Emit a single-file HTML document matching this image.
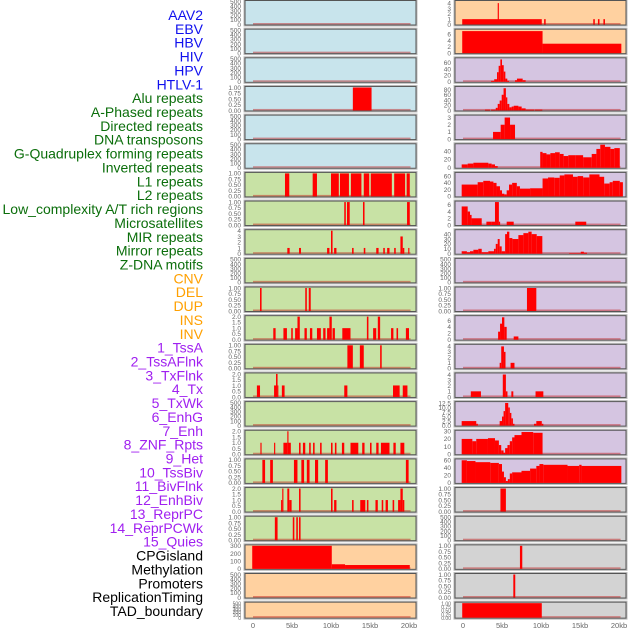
<!DOCTYPE html>
<html><head><meta charset="utf-8">
<style>
html,body{margin:0;padding:0;background:#fff;}
svg{display:block;font-family:"Liberation Sans",sans-serif;}
</style></head>
<body>
<svg id="chart" width="630" height="630" viewBox="0 0 630 630" xmlns="http://www.w3.org/2000/svg">
<g id="labels"></g><g id="panels"></g><g id="xaxis"></g>
</svg>
<script>
// ---- track labels ----
const trackLabels = ["AAV2","EBV","HBV","HIV","HPV","HTLV-1","Alu repeats","A-Phased repeats","Directed repeats","DNA transposons","G-Quadruplex forming repeats","Inverted repeats","L1 repeats","L2 repeats","Low_complexity A/T rich regions","Microsatellites","MIR repeats","Mirror repeats","Z-DNA motifs","CNV","DEL","DUP","INS","INV","1_TssA","2_TssAFlnk","3_TxFlnk","4_Tx","5_TxWk","6_EnhG","7_Enh","8_ZNF_Rpts","9_Het","10_TssBiv","11_BivFlnk","12_EnhBiv","13_ReprPC","14_ReprPCWk","15_Quies","CPGisland","Methylation","Promoters","ReplicationTiming","TAD_boundary"];
const labelGroups = [6,13,5,15,5];
const groupColors = ["#1010ee","#0b6e0b","#ffa000","#a020f0","#000000"];
// ---- tick label sets ----
const T500 = ["0","100","200","300","400","500"];
const TBIN = ["0.00","0.25","0.50","0.75","1.00"];
const T2 = ["0.0","0.5","1.0","1.5","2.0"];
const T4 = ["0","1","2","3","4"];
const T3 = ["0","1","2","3"];
const T6 = ["0","2","4","6"];
const T60 = ["0","20","40","60"];
const T80 = ["0","20","40","60","80"];
const T40 = ["0","20","40"];
const T40b = ["0","10","20","30","40"];
const T30 = ["0","10","20","30"];
const T12 = ["0.0","2.5","5.0","7.5","10.0","12.5"];
const T300 = ["0","100","200","300"];
const xTicks = [0,5,10,15,20];
const xTickLabels = ["0","5kb","10kb","15kb","20kb"];
// ---- series: [startKb, endKb, value] ----
const L3 = [[12.8,15.2,1]];
const L6 = [[4.1,4.65,1],[7.65,8.2,1],[10,11,1],[11.15,12.3,1],[12.55,13.9,1],[14.2,14.9,1],[15.1,17.8,1],[18.1,19.5,1],[19.7,20.1,1]];
const L7 = [[11.7,11.9,1],[12.05,12.4,1],[14.1,14.3,1],[19.75,20.1,1]];
const L8 = [[4.4,4.7,1],[5.9,6.15,1],[9.5,9.8,1],[10,10.2,4],[10.4,10.7,1],[12.7,12.9,1],[14.2,14.4,1],[15.8,16.1,1],[16.7,16.9,1],[17.2,17.5,1],[18.1,18.3,1],[18.9,19.2,3],[19.2,19.4,1],[19.9,20.05,1]];
const L10 = [[0.9,1.1,1],[6.7,6.9,1],[7.15,7.4,1]];
const L11 = [[2.6,2.9,1],[3.9,4.35,1],[4.9,5.1,1],[5.4,5.7,1],[5.7,6.0,2],[6.6,6.9,1],[7.3,7.6,1],[8.2,8.7,1],[9.0,9.3,1],[9.5,9.8,1],[9.8,10.1,2],[10.2,10.5,1],[11.45,12.5,1],[14.6,14.8,2],[15.4,15.8,1],[16.0,16.3,2],[17.7,18.0,1],[18.4,18.6,1],[19.6,20.0,1]];
const L12 = [[12.1,12.8,1],[13.7,14.2,1],[16.3,16.5,1]];
const L13 = [[0.5,0.9,1],[2.7,2.95,1],[2.95,3.15,2],[3.15,3.25,1],[3.7,4.05,1],[11.7,12.1,1],[17.95,18.8,1],[19.2,19.8,1]];
const L15 = [[0.95,1.1,1],[2.7,2.85,1],[3.9,4.4,1],[4.4,4.55,2],[4.55,4.85,1],[5.9,6.1,1],[6.4,6.7,1],[7.2,7.4,1],[7.7,7.9,1],[8.6,8.8,1],[10,10.2,1],[10.5,10.7,1],[11.4,11.7,1],[12.5,13.5,1],[14.0,14.3,1],[15.0,15.2,1],[15.8,16.1,1],[16.4,17.5,1],[18.0,18.3,1],[18.9,19.4,1]];
const L16 = [[1.2,1.55,1],[2.2,2.55,1],[5.25,5.7,1],[6.2,6.55,1],[6.9,7.25,1],[7.95,8.35,1],[9.25,9.6,1],[19.6,19.95,1]];
const L17 = [[3.6,3.75,1],[3.75,3.9,2],[4.4,4.65,2],[4.65,4.95,1],[5.9,6.1,2],[10,10.2,2],[10.4,10.7,1],[12.7,12.9,1],[13.75,14.4,1],[14.6,14.8,1],[15.7,16.0,1],[16.5,16.7,1],[17.0,17.3,1],[17.9,18.1,1],[18.6,18.9,1],[18.9,19.2,2],[19.2,19.4,1]];
const L18 = [[2.8,3.15,1],[5.1,5.3,1],[5.55,5.75,1],[5.9,6.1,1]];
const L19 = [[-0.1,10.1,300],[10.1,11.8,60],[11.8,20.1,50]];
const R0 = [[-0.1,10.1,1],[4.45,4.6,4],[10.4,10.6,1],[16.7,16.9,1],[17.3,17.5,1],[18.0,18.2,1]];
const R1 = [[-0.1,10.2,7],[10.2,20.3,3]];
const R2 = [[3.6,4.0,3],[4.0,4.36,8],[4.36,4.57,30],[4.57,4.79,50],[4.79,5.0,70],[5.0,5.22,52],[5.22,5.43,32],[5.43,5.68,10],[5.68,5.9,3],[6.67,6.92,5],[6.92,7.65,10],[7.65,8.03,5]];
const R3 = [[2.82,3.46,3],[3.6,4.2,3],[4.2,4.45,10],[4.45,4.7,25],[4.7,4.96,38],[4.96,5.2,60],[5.2,5.5,85],[5.5,5.68,50],[5.68,5.94,25],[5.94,6.24,12],[6.24,6.5,15],[6.5,7.1,18],[7.1,7.52,15],[7.52,8.03,8],[8.03,9.15,3],[9.23,10.17,3]];
const R4 = [[3.85,4.83,1],[4.83,5.34,2],[5.34,6.03,3],[6.03,6.67,2]];
const R5 = [[-0.17,0.6,8],[0.6,1.33,10],[1.33,3.25,12],[3.25,3.67,10],[3.67,4.1,8],[4.1,4.45,4],[9.9,10.2,38],[10.2,10.7,35],[10.7,11.2,32],[11.2,11.8,35],[11.8,12.4,37],[12.4,12.9,33],[12.9,13.5,28],[13.5,14.4,30],[14.4,15.4,30],[15.4,16.5,25],[16.5,17.1,33],[17.1,17.6,45],[17.6,18.2,55],[18.2,18.9,50],[18.9,19.4,45],[19.4,20.1,47]];
const R6 = [[-0.17,1.88,35],[1.88,2.6,42],[2.6,3.46,46],[3.46,3.9,44],[3.9,4.3,40],[4.3,4.74,30],[4.74,5.0,18],[5.0,5.3,8],[5.3,5.6,6],[5.6,5.9,18],[5.9,6.3,35],[6.3,6.9,40],[6.9,7.3,30],[7.3,8.6,23],[8.6,10.2,24],[10.2,10.9,53],[10.9,11.7,56],[11.7,12.4,55],[12.4,13.0,62],[13.0,14.1,65],[14.1,14.7,58],[14.7,15.4,60],[15.4,16.2,56],[16.2,17.5,65],[17.5,18.1,58],[18.1,18.8,38],[18.8,19.2,42],[19.2,20.1,46],[20.1,20.5,42]];
const R7 = [[-0.17,0.6,5.5],[0.6,0.9,4],[0.9,1.1,3],[1.1,2.4,2],[3.0,3.7,1],[3.7,4.1,1],[4.1,4.6,6.8],[4.6,4.76,1],[5.6,6.5,1],[14.4,15.8,1]];
const R8 = [[-0.17,0.5,5],[0.5,0.9,3],[0.9,1.33,5],[1.33,1.96,8],[1.96,2.4,10],[2.4,3.25,3],[3.25,3.97,5],[3.97,4.2,10],[4.2,4.45,20],[4.45,4.7,30],[4.7,4.96,15],[4.96,5.4,5],[5.4,5.64,40],[5.64,5.94,45],[5.94,6.33,32],[6.33,7.1,30],[7.1,7.74,38],[7.74,8.38,42],[8.38,8.8,45],[8.8,9.45,40],[9.45,10.17,36],[13.6,15.1,1],[15.1,15.5,4],[15.5,15.9,2]];
const R10 = [[8.2,9.4,1]];
const R11 = [[4.5,4.75,2.5],[4.75,5.0,5],[5.0,5.3,7],[5.3,5.6,4],[6.5,7.1,1]];
const R12 = [[4.7,4.9,1],[4.9,5.25,4],[5.25,5.45,3],[6.1,6.6,1]];
const R13 = [[1.0,2.3,1],[5.1,5.5,4],[5.5,5.7,1],[6.2,6.45,1],[9.3,10.3,1]];
const R14 = [[-0.17,1.7,2.5],[1.7,1.9,1],[4.7,5.0,2.5],[5.0,5.2,5],[5.2,5.4,8],[5.4,5.8,12.5],[5.8,6.0,10],[6.0,6.2,7],[6.2,6.4,4],[6.4,6.6,1],[9.1,9.4,1],[9.4,10.1,2.5],[10.1,10.3,1]];
const R15 = [[-0.17,1.2,20],[1.2,1.7,17],[1.7,3.2,20],[3.2,4.1,21],[4.1,4.6,18],[4.6,4.9,12],[4.9,5.2,5],[5.2,5.4,2],[5.4,5.7,8],[5.7,6.0,12],[6.0,6.3,17],[6.3,6.6,22],[6.6,7.5,25],[7.5,9.0,29],[9.0,10.2,28]];
const R16 = [[-0.17,0.5,60],[0.5,1.6,58],[1.6,3.5,55],[3.5,4.6,53],[4.6,5.0,50],[5.0,5.25,30],[5.25,5.5,15],[5.5,5.75,5],[5.75,6.0,10],[6.0,6.3,25],[6.3,7.5,28],[7.5,8.6,32],[8.6,9.4,38],[9.4,9.8,45],[9.8,10.3,50],[10.3,13.4,48],[13.4,14.9,45],[14.9,15.2,48],[15.2,20.3,45]];
const R17 = [[4.8,5.5,1]];
const R19 = [[7.3,7.6,1]];
const R20 = [[6.45,6.7,1]];
const R21 = [[-0.1,10.1,1]];
const EMPTY = [];

// ---- layout ----
const BLUE="#c8e4ec",GREEN="#c8e2a5",PEACH="#ffd1a0",LAV="#d5c5e1",GREY="#d3d3d3";
const rowsLeft = [
 [BLUE,EMPTY,T500,500],[BLUE,EMPTY,T500,500],[BLUE,EMPTY,T500,500],[BLUE,L3,TBIN,1],[BLUE,EMPTY,T500,500],[BLUE,EMPTY,T500,500],
 [GREEN,L6,TBIN,1],[GREEN,L7,TBIN,1],[GREEN,L8,T4,4],[GREEN,EMPTY,T500,500],[GREEN,L10,TBIN,1],[GREEN,L11,T2,2],[GREEN,L12,TBIN,1],
 [GREEN,L13,T2,2],[GREEN,EMPTY,T500,500],[GREEN,L15,T2,2],[GREEN,L16,TBIN,1],[GREEN,L17,T2,2],[GREEN,L18,TBIN,1],
 [PEACH,L19,T300,300],[PEACH,EMPTY,T500,500],[PEACH,EMPTY,T500,500]];
const rowsRight = [
 [PEACH,R0,T4,4.3],[PEACH,R1,T6,7.3],[LAV,R2,T60,72],[LAV,R3,T80,88],[LAV,R4,T3,3.2],[LAV,R5,T40,55],[LAV,R6,T60,68],
 [LAV,R7,T6,6.8],[LAV,R8,T40b,47],[LAV,EMPTY,T500,500],[LAV,R10,TBIN,1],[LAV,R11,T6,7.2],[LAV,R12,T4,4.2],[LAV,R13,T4,4.1],
 [LAV,R14,T12,12.7],[LAV,R15,T30,30],[LAV,R16,T60,61],[GREY,R17,TBIN,1],[GREY,EMPTY,T500,500],[GREY,R19,TBIN,1],[GREY,R20,TBIN,1],[GREY,R21,TBIN,1]];

const NS="http://www.w3.org/2000/svg";
function mk(tag,attrs,parent){const e=document.createElementNS(NS,tag);for(const k in attrs)e.setAttribute(k,attrs[k]);parent.appendChild(e);return e;}

// labels
const lg=document.getElementById('labels');
let li=0;
labelGroups.forEach((n,g)=>{for(let j=0;j<n;j++){
  const t=mk('text',{x:203,y:20+li*13.86,'text-anchor':'end','font-size':14,fill:groupColors[g]},lg);
  t.textContent=trackLabels[li];
  
  
  li++;}});

const pg=document.getElementById('panels');
function drawPanel(row,i,side){
  const [bg,data,ticks,ymax]=row;
  const px = side==='left'?245:455, pw=171;
  const x0 = side==='left'?253:463, kbPx=7.8;
  const top=0.5+28.65*i, h=(i===21)?16:24.5;
  const g=mk('g',{},pg);
  
  
  mk('rect',{x:px-1,y:top-1,width:pw+2,height:h+2,fill:'none',stroke:'#bbb','stroke-width':1},g);
  const bgr=mk('rect',{x:px,y:top,width:pw,height:h,fill:bg,stroke:'#555','stroke-width':1},g);
  
  
  const yb=top+h-0.5, yt=top+1;
  const xs=kb=>x0+kb*kbPx;
  const ys=v=>yb-(v/ymax)*(yb-yt);
  // baseline
  mk('rect',{x:xs(0),y:yb-1.5,width:xs(20.2)-xs(0),height:1.5,fill:'rgba(190,20,20,0.45)'},g);
  data.forEach((d,k)=>{
    const r=mk('rect',{x:xs(d[0]),y:ys(d[2]),width:Math.max(0.8,xs(d[1])-xs(d[0])),height:yb-ys(d[2]),fill:'#ff0000'},g);
    
    
  });
  ticks.forEach(tl=>{
    const v=parseFloat(tl);
    const t=mk('text',{x:px-4,y:ys(v)+2.3,'text-anchor':'end','font-size':(i===21?5:6.5),fill:'#666'},g);
    t.textContent=tl;
    
    
  });
}
rowsLeft.forEach((r,i)=>drawPanel(r,i,'left'));
rowsRight.forEach((r,i)=>drawPanel(r,i,'right'));

const xg=document.getElementById('xaxis');
[253,463].forEach((x0,s)=>{
  xTicks.forEach((kb,k)=>{
    const t=mk('text',{x:x0+kb*7.8,y:628,'text-anchor':'middle','font-size':7.5,fill:'#666'},xg);
    t.textContent=xTickLabels[k];
    
    
  });
});
</script>
</body></html>
